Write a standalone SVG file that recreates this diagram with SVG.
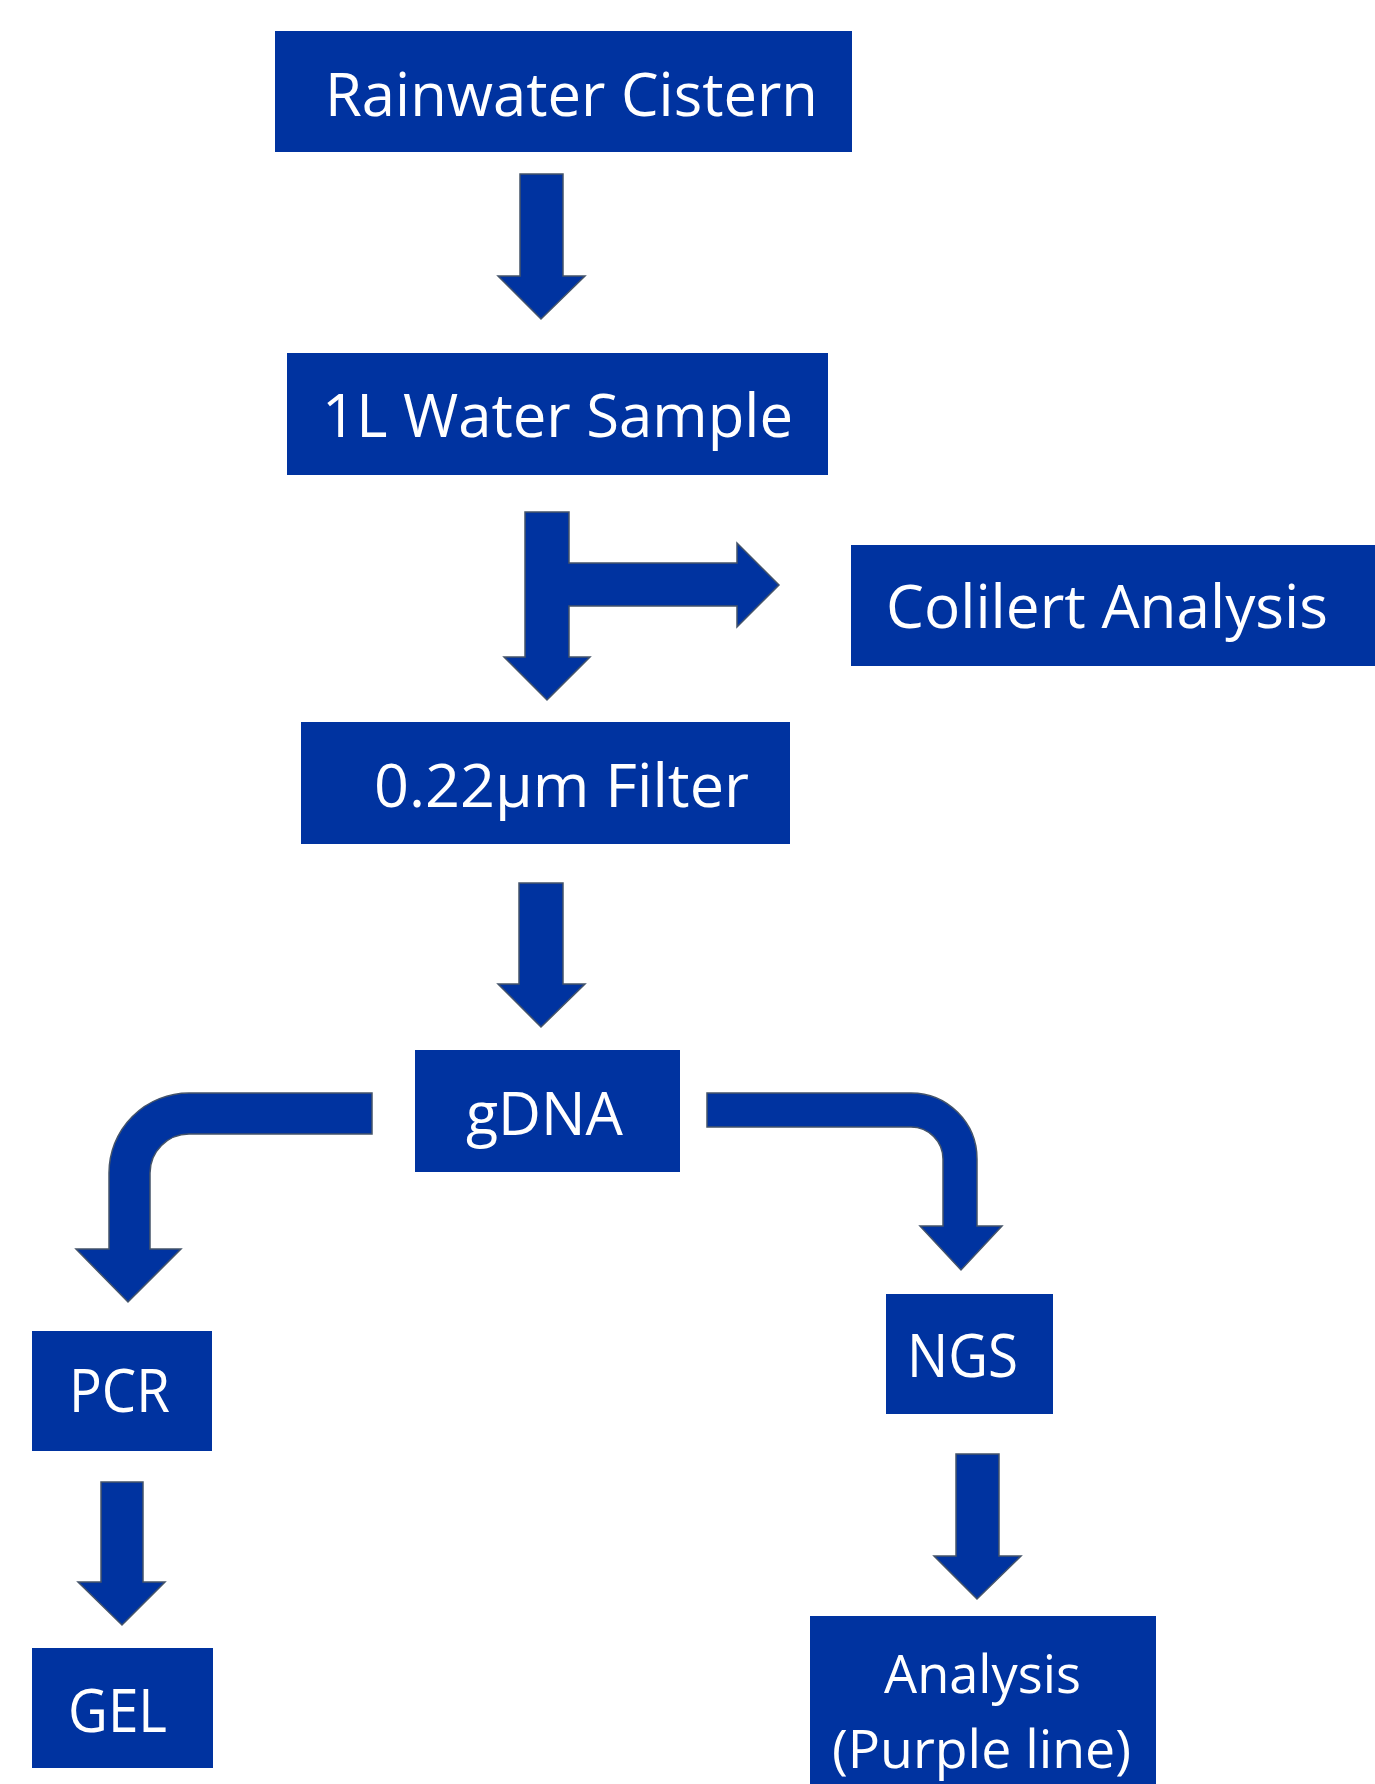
<svg xmlns="http://www.w3.org/2000/svg" width="1375" height="1784" viewBox="0 0 1375 1784">
<style>
.box{fill:#0033A0;}
.arr{fill:#0033A0;stroke:#44546A;stroke-width:1.5;stroke-linejoin:miter;}
.t{fill:#FFFFFF;font-family:"Open Sans","Noto Sans","Liberation Sans",sans-serif;font-size:60px;}
.s{font-size:53px;}
</style>
<rect width="1375" height="1784" fill="#FFFFFF"/>
<g id="connectors">
<polygon class="arr" points="520,174 563,174 563,276 585,276 541,319 498,276 520,276"/>
<polygon class="arr" points="525,512 569,512 569,563 737,563 737,543 779,585 737,627 737,606 569,606 569,657 590,657 547,700 504,657 525,657"/>
<polygon class="arr" points="519,883 563,883 563,984 585,984 541,1027 498,984 519,984"/>
<path class="arr" d="M372,1093 L189,1093 A80,80 0 0 0 109,1173 L109,1249 L76,1249 L128,1302 L181,1249 L150,1249 L150,1173 A39,39 0 0 1 189,1134 L372,1134 Z"/>
<path class="arr" d="M707,1093 L911,1093 A66,66 0 0 1 977,1159 L977,1226 L1002,1226 L961,1270 L920,1226 L943,1226 L943,1159 A32,32 0 0 0 911,1127 L707,1127 Z"/>
<polygon class="arr" points="101,1482 143,1482 143,1582 165,1582 122,1625 78,1582 101,1582"/>
<polygon class="arr" points="956,1454 999,1454 999,1556 1021,1556 977,1599 934,1556 956,1556"/>
</g>
<g id="rainwater">
<rect class="box" x="275" y="31" width="577" height="121"/>
<text class="t" x="325" y="116" textLength="493" lengthAdjust="spacingAndGlyphs">Rainwater Cistern</text>
</g>
<g id="sample">
<rect class="box" x="287" y="353" width="541" height="122"/>
<text class="t" x="322" y="437" textLength="471" lengthAdjust="spacingAndGlyphs">1L Water Sample</text>
</g>
<g id="colilert">
<rect class="box" x="851" y="545" width="524" height="121"/>
<text class="t" x="886" y="628" textLength="442" lengthAdjust="spacingAndGlyphs">Colilert Analysis</text>
</g>
<g id="filter">
<rect class="box" x="301" y="722" width="489" height="122"/>
<text class="t" x="374" y="807" textLength="375" lengthAdjust="spacingAndGlyphs">0.22µm Filter</text>
</g>
<g id="gdna">
<rect class="box" x="415" y="1050" width="265" height="122"/>
<text class="t" x="466" y="1135" textLength="157" lengthAdjust="spacingAndGlyphs">gDNA</text>
</g>
<g id="pcr">
<rect class="box" x="32" y="1331" width="180" height="120"/>
<text class="t" x="69" y="1412" textLength="101" lengthAdjust="spacingAndGlyphs">PCR</text>
</g>
<g id="ngs">
<rect class="box" x="886" y="1294" width="167" height="120"/>
<text class="t" x="907" y="1377" textLength="111" lengthAdjust="spacingAndGlyphs">NGS</text>
</g>
<g id="gel">
<rect class="box" x="32" y="1648" width="181" height="120"/>
<text class="t" x="68" y="1732" textLength="99" lengthAdjust="spacingAndGlyphs">GEL</text>
</g>
<g id="analysis">
<rect class="box" x="810" y="1616" width="346" height="168"/>
<text class="t s" x="884" y="1693" textLength="197" lengthAdjust="spacingAndGlyphs">Analysis</text>
<text class="t s" x="832" y="1768" textLength="299" lengthAdjust="spacingAndGlyphs">(Purple line)</text>
</g>
</svg>
